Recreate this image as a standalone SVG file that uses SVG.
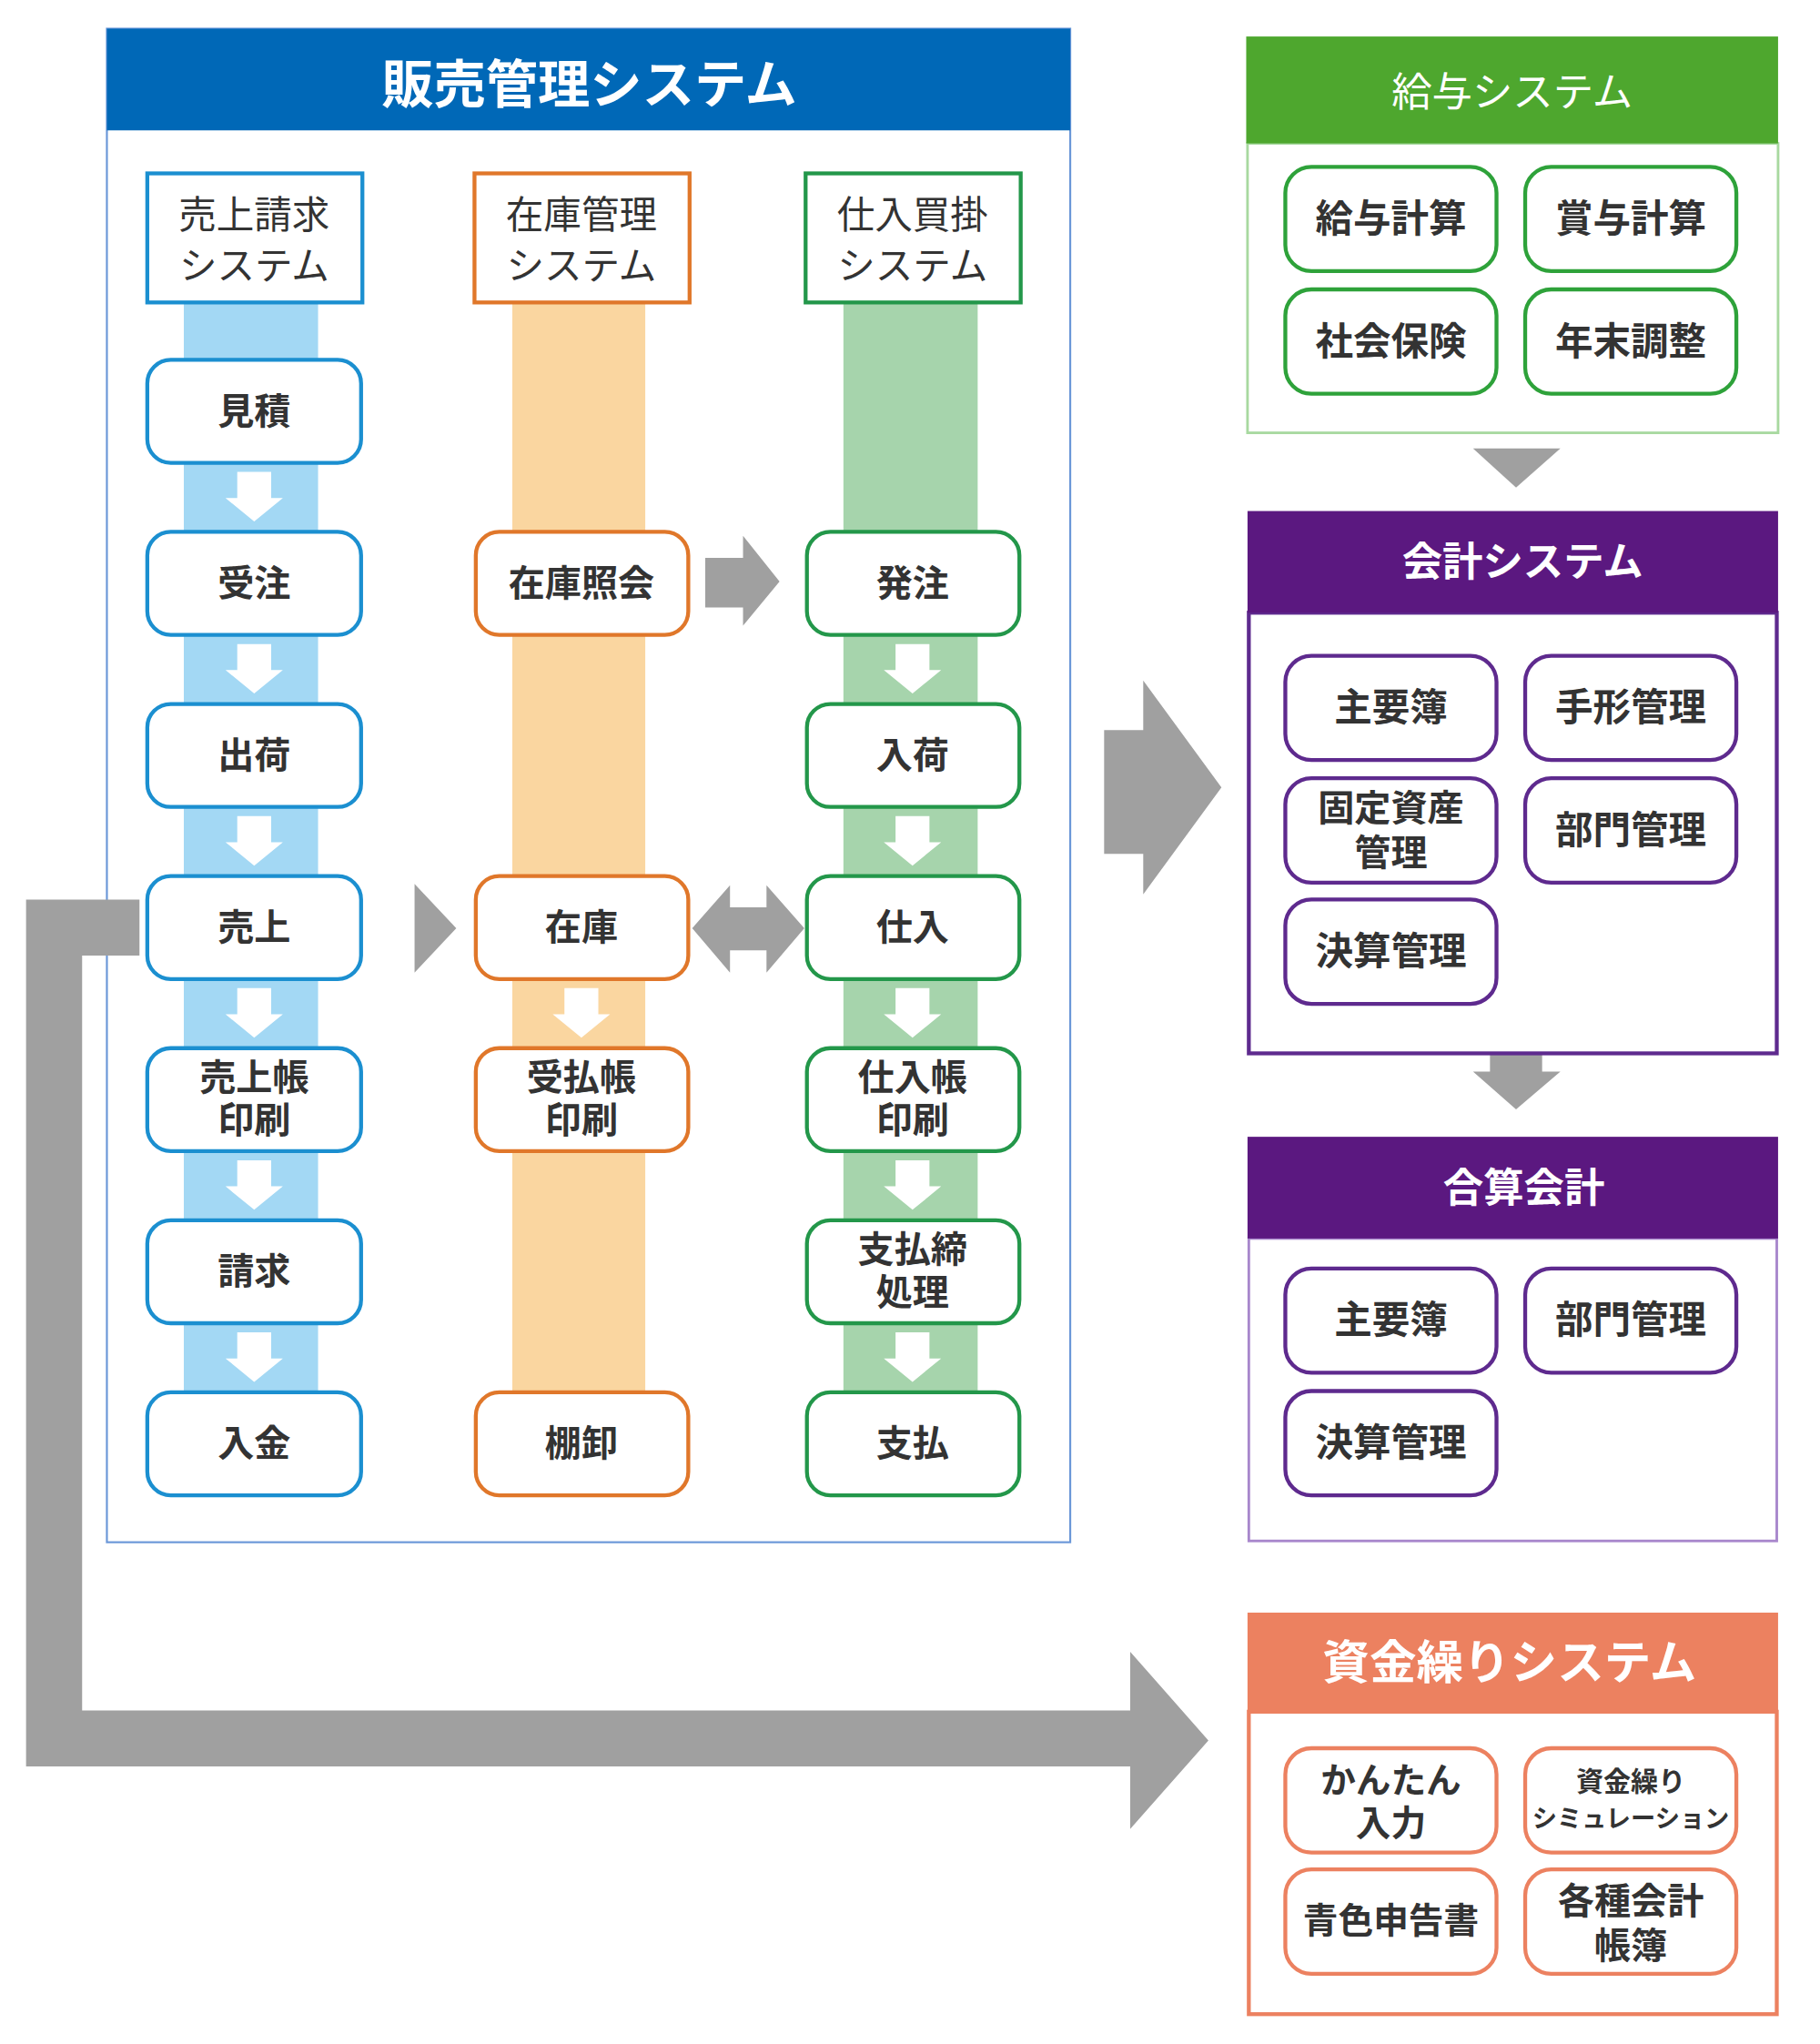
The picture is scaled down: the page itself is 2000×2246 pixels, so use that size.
<svg xmlns="http://www.w3.org/2000/svg" width="2000" height="2246" viewBox="0 0 2000 2246">
<style>
text{font-family:"Noto Sans CJK JP","Noto Sans CJK SC",sans-serif;text-anchor:middle;}
.lbl{font-size:28px;font-weight:700;fill:#333;}
.lblr{font-weight:700;fill:#333;}
.hd{font-size:29px;font-weight:400;fill:#333;}
.ttl{font-weight:700;fill:#fff;}
.nb{fill:#fff;stroke:#1b8fd0;stroke-width:3;}
.no{fill:#fff;stroke:#e0772a;stroke-width:3;}
.ng{fill:#fff;stroke:#23974a;stroke-width:3;}
.nlg{fill:#fff;stroke:#2ea23a;stroke-width:3;}
.np{fill:#fff;stroke:#5e2a8e;stroke-width:3;}
.ns{fill:#fff;stroke:#ec8160;stroke-width:3;}
.gray{fill:#a0a0a0;}
.wa{fill:#fff;}
</style>
<defs>
<path id="dn" d="M-13,0 h26 v20 h9 l-22,18 l-22,-18 h9 z"/>
</defs>
<rect width="2000" height="2246" fill="#fff"/>
<g transform="scale(1.4325)">
<g id="sales-panel">
<rect x="82" y="22" width="739" height="1161" fill="#fff" stroke="#6a97d8" stroke-width="1.5"/>
<rect x="82" y="22" width="739" height="78" fill="#0068b7"/>
<text class="ttl" x="452" y="79" font-size="40">販売管理システム</text>
</g>
<g id="bands">
<rect x="141" y="232" width="103" height="836" fill="#a3d8f4"/>
<rect x="393" y="232" width="102" height="836" fill="#fad6a0"/>
<rect x="647" y="232" width="103" height="836" fill="#a6d4ac"/>
</g>
<g id="hdr-sales"><rect x="113" y="133" width="165" height="99" fill="#fff" stroke="#1b8fd0" stroke-width="3"/><text class="hd" x="195" y="175">売上請求<tspan x="195" y="214">システム</tspan></text></g>
<g id="hdr-stock"><rect x="364" y="133" width="165" height="99" fill="#fff" stroke="#e0772a" stroke-width="3"/><text class="hd" x="446" y="175">在庫管理<tspan x="446" y="214">システム</tspan></text></g>
<g id="hdr-purchase"><rect x="618" y="133" width="165" height="99" fill="#fff" stroke="#23974a" stroke-width="3"/><text class="hd" x="700" y="175">仕入買掛<tspan x="700" y="214">システム</tspan></text></g>
<g id="connectors">
<use href="#dn" class="wa" x="195" y="362"/>
<use href="#dn" class="wa" x="195" y="494"/>
<use href="#dn" class="wa" x="195" y="626"/>
<use href="#dn" class="wa" x="195" y="758"/>
<use href="#dn" class="wa" x="195" y="890"/>
<use href="#dn" class="wa" x="195" y="1022"/>
<use href="#dn" class="wa" x="446" y="758"/>
<use href="#dn" class="wa" x="700" y="494"/>
<use href="#dn" class="wa" x="700" y="626"/>
<use href="#dn" class="wa" x="700" y="758"/>
<use href="#dn" class="wa" x="700" y="890"/>
<use href="#dn" class="wa" x="700" y="1022"/>
<path class="gray" d="M541,428 H570 V411 L598,446 L570,480 V466 H541 Z"/>
<path class="gray" d="M318,678 L350,712 L318,746 Z"/>
<path class="gray" d="M531,712 L560,679 V696 H588 V679 L617,712 L588,746 V729 H560 V746 Z"/>
<path class="gray" d="M847,560 H877 V522 L937,604 L877,686 V655 H847 Z"/>
<path class="gray" d="M107,690 H20 V1355 H867 V1403 L927,1335 L867,1267 V1312 H63 V733 H107 Z"/>
<path class="gray" d="M1130,344 H1197 L1163,374 Z"/>
<path class="gray" d="M1143,793 H1183 V822 H1197 L1163,851 L1130,822 H1143 Z"/>
</g>
<g id="n-mitsumori"><rect class="nb" x="113" y="276" width="164" height="79" rx="18"/><text class="lbl" x="195" y="325">見積</text></g>
<g id="n-juchu"><rect class="nb" x="113" y="408" width="164" height="79" rx="18"/><text class="lbl" x="195" y="457">受注</text></g>
<g id="n-shukka"><rect class="nb" x="113" y="540" width="164" height="79" rx="18"/><text class="lbl" x="195" y="589">出荷</text></g>
<g id="n-uriage"><rect class="nb" x="113" y="672" width="164" height="79" rx="18"/><text class="lbl" x="195" y="721">売上</text></g>
<g id="n-uriagecho"><rect class="nb" x="113" y="804" width="164" height="79" rx="18"/><text class="lbl" x="195" y="836">売上帳<tspan x="195" y="869">印刷</tspan></text></g>
<g id="n-seikyu"><rect class="nb" x="113" y="936" width="164" height="79" rx="18"/><text class="lbl" x="195" y="985">請求</text></g>
<g id="n-nyukin"><rect class="nb" x="113" y="1068" width="164" height="79" rx="18"/><text class="lbl" x="195" y="1117">入金</text></g>
<g id="n-zaikoshokai"><rect class="no" x="365" y="408" width="163" height="79" rx="18"/><text class="lbl" x="446" y="457">在庫照会</text></g>
<g id="n-zaiko"><rect class="no" x="365" y="672" width="163" height="79" rx="18"/><text class="lbl" x="446" y="721">在庫</text></g>
<g id="n-ukeharai"><rect class="no" x="365" y="804" width="163" height="79" rx="18"/><text class="lbl" x="446" y="836">受払帳<tspan x="446" y="869">印刷</tspan></text></g>
<g id="n-tanaoroshi"><rect class="no" x="365" y="1068" width="163" height="79" rx="18"/><text class="lbl" x="446" y="1117">棚卸</text></g>
<g id="n-hatchu"><rect class="ng" x="619" y="408" width="163" height="79" rx="18"/><text class="lbl" x="700" y="457">発注</text></g>
<g id="n-nyuka"><rect class="ng" x="619" y="540" width="163" height="79" rx="18"/><text class="lbl" x="700" y="589">入荷</text></g>
<g id="n-shiire"><rect class="ng" x="619" y="672" width="163" height="79" rx="18"/><text class="lbl" x="700" y="721">仕入</text></g>
<g id="n-shiirecho"><rect class="ng" x="619" y="804" width="163" height="79" rx="18"/><text class="lbl" x="700" y="836">仕入帳<tspan x="700" y="869">印刷</tspan></text></g>
<g id="n-shiharaijime"><rect class="ng" x="619" y="936" width="163" height="79" rx="18"/><text class="lbl" x="700" y="968">支払締<tspan x="700" y="1001">処理</tspan></text></g>
<g id="n-shiharai"><rect class="ng" x="619" y="1068" width="163" height="79" rx="18"/><text class="lbl" x="700" y="1117">支払</text></g>
<g id="payroll-panel">
<rect x="957" y="110" width="407" height="222" fill="#fff" stroke="#a8d9a0" stroke-width="2"/>
<rect x="956" y="28" width="408" height="82" fill="#4ea72e"/>
<text x="1160" y="82" font-size="31" fill="#fff">給与システム</text>
</g>
<g id="n-kyuyo"><rect class="nlg" x="986" y="128" width="162" height="80" rx="20"/><text class="lblr" x="1067" y="178" font-size="29">給与計算</text></g>
<g id="n-shoyo"><rect class="nlg" x="1170" y="128" width="162" height="80" rx="20"/><text class="lblr" x="1251" y="178" font-size="29">賞与計算</text></g>
<g id="n-shakai"><rect class="nlg" x="986" y="222" width="162" height="80" rx="20"/><text class="lblr" x="1067" y="272" font-size="29">社会保険</text></g>
<g id="n-nenmatsu"><rect class="nlg" x="1170" y="222" width="162" height="80" rx="20"/><text class="lblr" x="1251" y="272" font-size="29">年末調整</text></g>
<g id="accounting-panel">
<rect x="958" y="470" width="405" height="338" fill="#fff" stroke="#5e2a8e" stroke-width="3"/>
<rect x="957" y="392" width="407" height="78" fill="#5b1880"/>
<text class="ttl" x="1168" y="442" font-size="31">会計システム</text>
</g>
<g id="n-shuyobo"><rect class="np" x="986" y="503" width="162" height="80" rx="20"/><text class="lblr" x="1067" y="553" font-size="29">主要簿</text></g>
<g id="n-tegata"><rect class="np" x="1170" y="503" width="162" height="80" rx="20"/><text class="lblr" x="1251" y="553" font-size="29">手形管理</text></g>
<g id="n-kotei"><rect class="np" x="986" y="597" width="162" height="80" rx="20"/><text class="lblr" x="1067" y="630" font-size="28">固定資産<tspan x="1067" y="664">管理</tspan></text></g>
<g id="n-bumon"><rect class="np" x="1170" y="597" width="162" height="80" rx="20"/><text class="lblr" x="1251" y="647" font-size="29">部門管理</text></g>
<g id="n-kessan"><rect class="np" x="986" y="690" width="162" height="80" rx="20"/><text class="lblr" x="1067" y="740" font-size="29">決算管理</text></g>
<g id="consolidated-panel">
<rect x="958" y="950" width="405" height="232" fill="#fff" stroke="#a887cc" stroke-width="2"/>
<rect x="957" y="872" width="407" height="78" fill="#5b1880"/>
<text class="ttl" x="1169" y="922" font-size="31">合算会計</text>
</g>
<g id="n-shuyobo2"><rect class="np" x="986" y="973" width="162" height="80" rx="20"/><text class="lblr" x="1067" y="1023" font-size="29">主要簿</text></g>
<g id="n-bumon2"><rect class="np" x="1170" y="973" width="162" height="80" rx="20"/><text class="lblr" x="1251" y="1023" font-size="29">部門管理</text></g>
<g id="n-kessan2"><rect class="np" x="986" y="1067" width="162" height="80" rx="20"/><text class="lblr" x="1067" y="1117" font-size="29">決算管理</text></g>
<g id="cashflow-panel">
<rect x="958" y="1313" width="405" height="232" fill="#fff" stroke="#ec8160" stroke-width="3"/>
<rect x="957" y="1237" width="407" height="76" fill="#ec8160"/>
<text class="ttl" x="1158" y="1288" font-size="36">資金繰りシステム</text>
</g>
<g id="n-kantan"><rect class="ns" x="986" y="1341" width="162" height="80" rx="20"/><text class="lblr" x="1067" y="1375" font-size="27">かんたん<tspan x="1067" y="1408">入力</tspan></text></g>
<g id="n-sim"><rect class="ns" x="1170" y="1341" width="162" height="80" rx="20"/><text class="lblr" x="1251" y="1374" font-size="21">資金繰り<tspan x="1251" y="1402" font-size="19">シミュレーション</tspan></text></g>
<g id="n-aoiro"><rect class="ns" x="986" y="1434" width="162" height="80" rx="20"/><text class="lblr" x="1067" y="1483" font-size="27">青色申告書</text></g>
<g id="n-kakushu"><rect class="ns" x="1170" y="1434" width="162" height="80" rx="20"/><text class="lblr" x="1251" y="1468" font-size="28">各種会計<tspan x="1251" y="1502">帳簿</tspan></text></g>
</g>
</svg>
